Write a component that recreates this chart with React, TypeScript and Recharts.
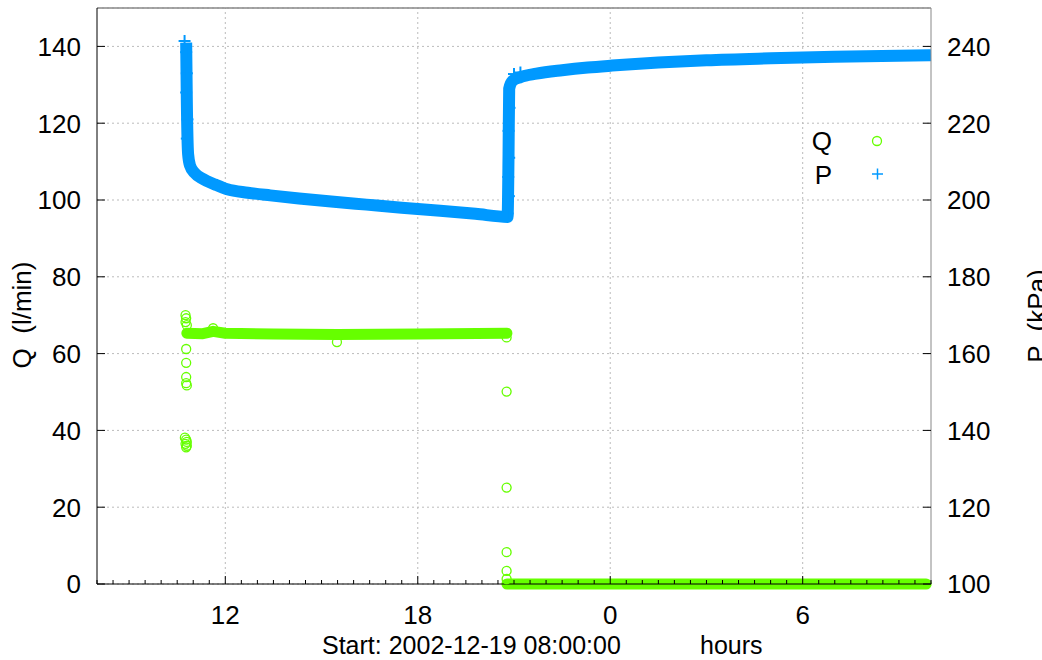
import React from "react";
import {
  ComposedChart,
  Line,
  Scatter,
  XAxis,
  YAxis,
  CartesianGrid,
  ReferenceLine,
  Legend,
} from "recharts";

// hours since start (2002-12-19 08:00)
const majorHours = [4, 10, 16, 22];
const majorLabels = ["12", "18", "0", "6"];
const halfHourTicks = Array.from({ length: 53 }, (_, i) => i / 2);

const qTicks = [0, 20, 40, 60, 80, 100, 120, 140];
const pTicks = [100, 120, 140, 160, 180, 200, 220, 240];

// P trend (dense "+" band)
const pHours = [2.78, 2.8, 2.84, 2.9, 3.05, 3.3, 3.69, 4.06, 4.7, 5.4, 6.3, 7.3, 8.4, 9.5, 10.7, 11.8, 12.8, 12.83, 12.85, 12.95, 13.2, 13.7, 14.5, 15.3, 16.06, 17.5, 19.0, 21.0, 23.0, 26.0];
const pKPa = [241.0, 226, 212, 209, 207, 205.5, 204, 202.8, 201.9, 201.2, 200.4, 199.6, 198.8, 198.0, 197.2, 196.4, 195.6, 212, 229, 231, 232.0, 232.9, 233.8, 234.5, 235.0, 235.8, 236.4, 236.9, 237.3, 237.7];

// scattered P samples along the steep parts
const pDotHours = [2.73, 2.78, 2.8, 2.78, 2.82, 2.8, 12.8, 12.84, 12.82, 12.85, 12.83, 12.86, 13.0, 13.2];
const pDotKPa = [241.4, 238.5, 233, 228, 221, 216, 196.5, 201, 206, 211, 218, 224, 232.8, 233.2];

// Q trend (dense "o" band), null breaks the line
const qHours = [2.8, 3.3, 3.62, 4.0, 5.5, 7.5, 10.0, 12.78, 12.78, 12.78, 25.85];
const qLpm = [65.3, 65.2, 65.8, 65.3, 65.1, 65, 65.1, 65.3, null, 0, 0];

// scattered Q samples
const qDotHours = [2.76, 2.78, 2.76, 2.8, 2.78, 2.78, 2.78, 2.78, 2.8, 2.74, 2.78, 2.8, 2.76, 2.8, 2.78, 3.62, 7.48, 12.77, 12.77, 12.77, 12.77, 12.77, 12.77];
const qDotLpm = [70.0, 69.2, 68.2, 67.4, 61.2, 57.6, 53.9, 52.3, 51.7, 38.1, 37.6, 37.0, 36.5, 36.0, 35.6, 66.6, 63.0, 64.2, 50.1, 25.1, 8.3, 3.4, 1.3];

const Q_COLOR = "#66ff00";
const P_COLOR = "#0099ff";
const FONT = '"Liberation Sans", Arial, Helvetica, sans-serif';

const pLine = pHours.map((t, i) => ({ t, p: pKPa[i] }));
const pDots = pDotHours.map((t, i) => ({ t, p: pDotKPa[i] }));
const qLine = qHours.map((t, i) => ({ t, q: qLpm[i] }));
const qDots = qDotHours.map((t, i) => ({ t, q: qDotLpm[i] }));

const HourTick = (props: any) => {
  const { x, y, payload } = props;
  const idx = majorHours.indexOf(payload.value);
  const major = idx >= 0;
  return (
    <g>
      <line x1={x} x2={x} y1={y} y2={y - (major ? 8 : 4)} stroke="#000" />
      {major && (
        <text x={x} y={y + 40} textAnchor="middle" fontSize={26} fontFamily={FONT} fill="#000">
          {majorLabels[idx]}
        </text>
      )}
    </g>
  );
};

const LeftTick = (props: any) => {
  const { x, y, payload } = props;
  return (
    <g>
      <line x1={x} x2={x + 8} y1={y} y2={y} stroke="#000" />
      <text x={x - 16} y={y} dy="0.36em" textAnchor="end" fontSize={26} fontFamily={FONT} fill="#000">
        {payload.value}
      </text>
    </g>
  );
};

const RightTick = (props: any) => {
  const { x, y, payload } = props;
  return (
    <g>
      <line x1={x} x2={x - 8} y1={y} y2={y} stroke="#000" />
      <text x={x + 16} y={y} dy="0.36em" textAnchor="start" fontSize={26} fontFamily={FONT} fill="#000">
        {payload.value}
      </text>
    </g>
  );
};

const Circle = (props: any) => (
  <circle cx={props.cx} cy={props.cy} r={4.5} fill="none" stroke={Q_COLOR} strokeWidth={1.3} />
);

const Plus = (props: any) => (
  <g stroke={P_COLOR} strokeWidth={2}>
    <line x1={props.cx - 6} x2={props.cx + 6} y1={props.cy} y2={props.cy} />
    <line x1={props.cx} x2={props.cx} y1={props.cy - 6} y2={props.cy + 6} />
  </g>
);

const renderLegend = () => (
  <svg width={130} height={80}>
    <text x={52} y={32} textAnchor="end" fontSize={26} fontFamily={FONT} fill="#000">Q</text>
    <circle cx={97} cy={23} r={4.5} fill="none" stroke={Q_COLOR} strokeWidth={1.3} />
    <text x={52} y={66} textAnchor="end" fontSize={26} fontFamily={FONT} fill="#000">P</text>
    <line x1={92} x2={103} y1={56} y2={56} stroke={P_COLOR} strokeWidth={1.5} />
    <line x1={97.5} x2={97.5} y1={50.5} y2={61.5} stroke={P_COLOR} strokeWidth={1.5} />
  </svg>
);

export default function App() {
  return (
    <div style={{ position: "absolute", left: 0, top: 0, width: 1042, height: 660, background: "#fff" }}>
      <ComposedChart width={1042} height={660} margin={{ top: 8, right: 0, bottom: 0, left: 0 }}>
        <CartesianGrid yAxisId="q" vertical={false} stroke="#bbbbbb" strokeDasharray="2 3" />
        {majorHours.map((h) => (
          <ReferenceLine key={h} x={h} yAxisId="q" stroke="#bbbbbb" strokeDasharray="2 3" />
        ))}
        <ReferenceLine y={150} yAxisId="q" stroke="#888888" strokeWidth={1.5} />
        <XAxis
          dataKey="t"
          type="number"
          domain={[0, 26]}
          ticks={halfHourTicks}
          interval={0}
          height={76}
          tickSize={0}
          tickMargin={0}
          tick={<HourTick />}
          axisLine={{ stroke: "#000" }}
          label={{
            content: () => (
              <g fontSize={25} fontFamily={FONT} fill="#000">
                <text x={322} y={654}>Start: 2002-12-19 08:00:00</text>
                <text x={700} y={654}>hours</text>
              </g>
            ),
          }}
        />
        <YAxis
          yAxisId="q"
          type="number"
          domain={[0, 150]}
          ticks={qTicks}
          interval={0}
          width={97}
          tickSize={0}
          tickMargin={0}
          tick={<LeftTick />}
          axisLine={{ stroke: "#000" }}
          label={{
            content: () => (
              <text
                x={31}
                y={315}
                transform="rotate(-90 31 315)"
                textAnchor="middle"
                fontSize={26}
                fontFamily={FONT}
                fill="#000"
                style={{ whiteSpace: "pre" }}
              >
                {"Q  (l/min)"}
              </text>
            ),
          }}
        />
        <YAxis
          yAxisId="p"
          orientation="right"
          type="number"
          domain={[100, 250]}
          ticks={pTicks}
          interval={0}
          width={111}
          tickSize={0}
          tickMargin={0}
          tick={<RightTick />}
          axisLine={{ stroke: "#888888" }}
          label={{
            content: () => (
              <text
                x={1046}
                y={316}
                transform="rotate(-90 1046 316)"
                textAnchor="middle"
                fontSize={26}
                fontFamily={FONT}
                fill="#000"
                style={{ whiteSpace: "pre" }}
              >
                {"P  (kPa)"}
              </text>
            ),
          }}
        />
        <Line
          yAxisId="p"
          data={pLine}
          dataKey="p"
          type="monotone"
          stroke={P_COLOR}
          strokeWidth={12}
          strokeLinejoin="round"
          dot={false}
          activeDot={false}
          isAnimationActive={false}
        />
        <Scatter yAxisId="p" data={pDots} dataKey="p" shape={<Plus />} isAnimationActive={false} />
        <Line
          yAxisId="q"
          data={qLine}
          dataKey="q"
          type="linear"
          stroke={Q_COLOR}
          strokeWidth={11}
          strokeLinecap="round"
          strokeLinejoin="round"
          dot={false}
          activeDot={false}
          isAnimationActive={false}
        />
        <Scatter yAxisId="q" data={qDots} dataKey="q" shape={<Circle />} isAnimationActive={false} />
        <Legend
          layout="horizontal"
          align="center"
          verticalAlign="middle"
          content={renderLegend}
          wrapperStyle={{ position: "absolute", left: 780, top: 118, width: 130, height: 80 }}
        />
      </ComposedChart>
    </div>
  );
}
